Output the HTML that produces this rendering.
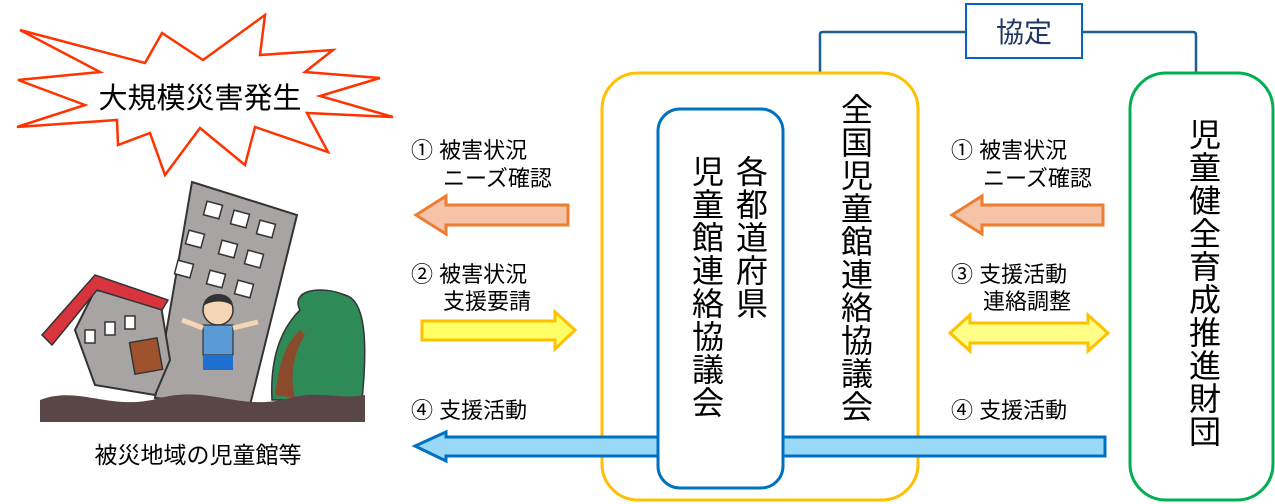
<!DOCTYPE html>
<html><head><meta charset="utf-8"><style>
html,body{margin:0;padding:0;background:#fff;width:1275px;height:504px;overflow:hidden;position:relative}
svg{display:block;position:absolute;left:0;top:0}
text{font-family:"Liberation Sans","Noto Sans CJK JP",sans-serif;fill:#000}
.v{position:absolute;writing-mode:vertical-rl;font-family:"Liberation Sans","Noto Sans CJK JP",sans-serif;font-size:32px;line-height:34px;width:34px;color:#000;letter-spacing:1px}
</style></head><body>
<svg width="1275" height="504" viewBox="0 0 1275 504" xmlns="http://www.w3.org/2000/svg">
<polygon points="20,30 145,63 162,33 203,60 265,15 260,55 333,50 305,72 380,78 320,96 393,117 307,113 328,152 255,127 245,165 200,128 165,175 150,133 118,145 117,120 17,127 85,105 18,80 100,72" fill="#fff" stroke="#FF3300" stroke-width="2.5"/>
<text x="200" y="108" font-size="29" text-anchor="middle">大規模災害発生</text>
<polygon points="192,182 297,215 250,405 155,398" fill="#A8A4A4" stroke="#333" stroke-width="2"/>
<g fill="#fff" stroke="#333" stroke-width="1.5">
<rect x="205" y="203" width="16" height="14" transform="rotate(15 213 210)"/><rect x="232" y="212" width="16" height="14" transform="rotate(15 240 219)"/><rect x="258" y="222" width="16" height="14" transform="rotate(15 266 229)"/>
<rect x="187" y="232" width="16" height="14" transform="rotate(15 195 239)"/><rect x="220" y="242" width="16" height="14" transform="rotate(15 228 249)"/><rect x="246" y="252" width="16" height="14" transform="rotate(15 254 259)"/>
<rect x="176" y="262" width="16" height="14" transform="rotate(15 184 269)"/><rect x="208" y="272" width="16" height="14" transform="rotate(15 216 279)"/><rect x="236" y="282" width="16" height="14" transform="rotate(15 244 289)"/>
</g>
<polygon points="75,330 95,290 160,300 170,360 155,395 95,385" fill="#A8A4A4" stroke="#333" stroke-width="2"/>
<polygon points="42,335 95,275 168,300 162,310 97,290 52,345" fill="#D8343E" stroke="#333" stroke-width="1.5"/>
<rect x="132" y="340" width="28" height="32" fill="#A0522D" stroke="#333" stroke-width="1.5" transform="rotate(-10 146 356)"/>
<g fill="#fff" stroke="#333" stroke-width="1.5"><rect x="85" y="330" width="10" height="13"/><rect x="105" y="322" width="10" height="13"/><rect x="125" y="316" width="10" height="13"/></g>
<path d="M272,400 C270,360 280,330 300,310 C290,290 320,285 345,295 C365,300 368,340 362,400 Z" fill="#2E8B57" stroke="#333" stroke-width="1.5"/>
<path d="M275,395 C280,360 285,345 300,330 L305,335 C292,355 290,380 295,398 Z" fill="#8B4A2B"/>
<circle cx="218" cy="310" r="15" fill="#F5D6B4" stroke="#333" stroke-width="1.5"/>
<path d="M203,306 C205,290 232,290 233,306 C225,300 212,300 203,306Z" fill="#333"/>
<rect x="203" y="325" width="30" height="30" fill="#5B9BD5" stroke="#333" stroke-width="1.2"/>
<rect x="203" y="355" width="30" height="15" fill="#1F6FD0"/>
<path d="M203,328 L182,320 M233,328 L258,322" stroke="#F5D6B4" stroke-width="5"/>
<path d="M40,400 C80,385 110,412 160,398 C210,385 240,412 290,398 C320,390 340,400 365,395 L365,422 L40,422 Z" fill="#5A4646"/>
<text x="198" y="463" font-size="23" text-anchor="middle">被災地域の児童館等</text>

<path d="M820,73 V34 Q820,32 823,32 H965 M1082,32 H1193 Q1196,32 1196,35 V73" fill="none" stroke="#1F5F8B" stroke-width="2.5"/>
<rect x="966" y="4" width="116" height="54" fill="#fff" stroke="#0563C1" stroke-width="2"/>
<text x="1024" y="42" font-size="28" text-anchor="middle" style="fill:#1F3864">協定</text>

<rect x="602" y="73" width="316" height="427" rx="36" fill="#fff" stroke="#FFC000" stroke-width="3"/>
<rect x="1130" y="73" width="143" height="427" rx="36" fill="#fff" stroke="#00B050" stroke-width="3"/>
<polygon points="1105,437 1105,456 446,456 446,461 415,446 446,432 446,437" fill="#97D9F6" stroke="#0070C0" stroke-width="3"/>
<rect x="658" y="109" width="125" height="379" rx="22" fill="#fff" stroke="#0070C0" stroke-width="3"/>

<polygon points="568,205 568,225 446,225 446,234 416,215 446,196 446,205" fill="#F4C3A8" stroke="#ED7D31" stroke-width="3"/>
<polygon points="1103,205 1103,225 982,225 982,234 952,215 982,196 982,205" fill="#F4C3A8" stroke="#ED7D31" stroke-width="3"/>
<polygon points="422,321 422,340 555,340 555,349 575,330 555,312 555,321" fill="#FFFF66" stroke="#FFC000" stroke-width="3"/>
<polygon points="950,333 970,315 970,323 1088,323 1088,315 1108,333 1088,351 1088,343 970,343 970,351" fill="#FFFF88" stroke="#FFC000" stroke-width="3"/>

<g font-size="22">
<text x="411" y="158">①&#160;被害状況</text><text x="443" y="186">ニーズ確認</text>
<text x="411" y="282">②&#160;被害状況</text><text x="443" y="309">支援要請</text>
<text x="411" y="418">④&#160;支援活動</text>
<text x="951" y="158">①&#160;被害状況</text><text x="983" y="186">ニーズ確認</text>
<text x="951" y="282">③&#160;支援活動</text><text x="983" y="309">連絡調整</text>
<text x="951" y="418">④&#160;支援活動</text>
</g>
</svg>
<div class="v" style="left:838px;top:93px">全国児童館連絡協議会</div>
<div class="v" style="left:733px;top:155px">各都道府県</div>
<div class="v" style="left:689px;top:155px">児童館連絡協議会</div>
<div class="v" style="left:1186px;top:118px">児童健全育成推進財団</div>
</body></html>
